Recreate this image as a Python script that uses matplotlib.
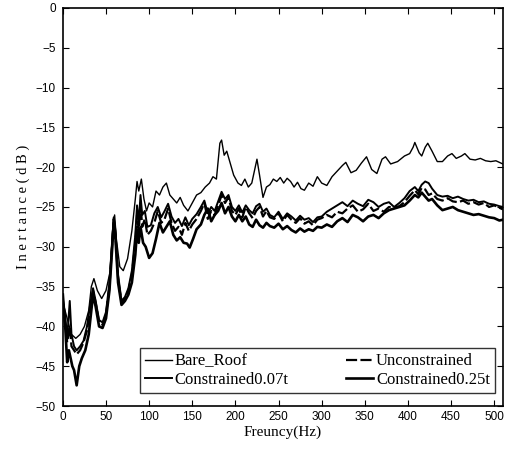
import matplotlib
matplotlib.use('Agg')
import matplotlib.pyplot as plt

# Bare roof
bare_f = [0, 5, 10, 15, 20, 25, 30, 33, 36, 40, 45, 50, 55, 58, 60, 62, 66, 70, 75, 80,
          84, 86, 88, 91, 94, 97, 100, 104, 108, 112, 116, 120, 124, 128, 132, 136, 140, 145,
          150, 155, 160, 165, 170, 174, 178, 182, 184, 187, 190, 194, 198, 203, 207, 211, 215,
          219, 222, 225, 228, 232, 236, 240, 244, 248, 252, 256, 260, 264, 268, 272, 276, 280,
          285, 290, 295, 300, 306, 312, 318, 324, 328, 334, 340, 346, 352, 358, 364, 370, 374,
          380, 388, 396, 402, 406, 408, 413, 416, 420, 423, 428, 434, 440, 446, 451, 456, 462,
          466, 472, 478, 484, 490, 496, 502, 510]
bare_db = [-37, -39, -41, -41.5, -41, -40, -38, -35, -34, -35.5, -36.5, -35.5, -33, -27.5, -26,
           -29, -32.5, -33, -31.5, -28, -24, -21.8, -23, -21.5, -24, -25.5, -24.5, -25, -23,
           -23.5, -22.5, -22, -23.5, -24, -24.5, -23.8, -24.8, -25.5, -24.5, -23.5, -23.2, -22.5,
           -22, -21.2, -21.5, -17, -16.6, -18.5, -18, -19.5, -21, -22, -22.3, -21.5, -22.5, -22,
           -20.5, -19, -21, -23.8, -22.5, -22.2, -21.5, -21.8, -21.3, -22, -21.4, -21.8, -22.5,
           -21.9, -22.7, -22.9, -22.0, -22.4, -21.2, -22.0, -22.3, -21.2, -20.5, -19.8, -19.4,
           -20.7, -20.4, -19.5, -18.7, -20.3, -20.8, -19.0, -18.7, -19.6, -19.3, -18.6, -18.3,
           -17.5, -16.9, -18.2, -18.6, -17.5, -17.0, -18, -19.3, -19.3, -18.6, -18.3, -18.9,
           -18.6, -18.3, -19.0, -19.1, -18.9, -19.2, -19.3, -19.2, -19.6]

# shared grid for the damped curves
damp_f = [0, 3, 5, 8, 10, 13, 16, 20, 24, 28, 32, 35, 38, 42, 46, 50, 54, 57, 59, 61, 64, 68,
          72, 76, 80, 84, 86, 88, 90, 92, 95, 98, 102, 106, 110, 114, 118, 122, 126, 130, 134,
          138, 142, 146, 150, 155, 160, 164, 168, 172, 176, 180, 184, 188, 192, 196, 200, 204,
          208, 212, 216, 220, 224, 228, 232, 236, 240, 245, 250, 255, 260, 265, 270, 275, 280,
          285, 290, 295, 300, 306, 312, 318, 324, 330, 336, 342, 348, 354, 360, 366, 372, 378,
          384, 390, 396, 402, 408, 412, 416, 420, 424, 428, 434, 440, 446, 452, 458, 464, 470,
          476, 482, 488, 494, 500, 506, 510]
uncon_db = [-37, -40, -42, -40, -42.5, -43, -43.5, -43, -42, -40.5, -37.5, -35.5, -37, -39.5,
            -39.8, -38.5, -35, -30, -26.5, -28.5, -34, -37, -36.5, -35.5, -33.5, -29.5, -26, -28,
            -24.5, -27.5, -26.5, -28.5, -28, -27, -25.5, -27, -26.5, -25.2, -27, -28, -27.5,
            -28.5, -27, -28, -27.2, -26.5, -25.5, -24.5, -26.5, -25.5, -26, -24.8, -23.5, -24.5,
            -23.8, -25.5, -26, -25.2, -26.3, -25, -25.8, -26.4, -25.5, -25, -26.2, -25.5, -26.3,
            -26.5, -25.8, -26.8, -26, -26.6, -27, -26.4, -27.1, -26.8, -27.3, -26.6, -26.4, -26.0,
            -26.3, -25.6, -25.8, -25.2, -24.8, -25.6, -25.3, -24.6, -25.5, -25.2, -25.6, -25.0,
            -25.1, -24.9, -24.4, -23.6, -22.9, -23.4, -22.6, -22.8, -23.5, -23.3, -24.0, -24.2,
            -23.9, -24.3, -24.4, -24.2, -24.6, -24.4, -24.7, -24.5, -25.0, -24.8, -25.1, -25.3]
c007_db = [-36.5, -39, -41.5, -36.8, -41, -42.5, -43, -42.5, -41.8, -40, -37, -35.2, -36.8,
           -39.2, -39.5, -38.2, -34.5, -29.5, -26.3, -28, -33.5, -36.8, -36.3, -35.2, -33, -28.5,
           -24.8, -27, -23.5, -26, -25.5, -27.5, -27.3, -25.8, -25, -26.3, -25.5, -24.6, -26.2,
           -27, -26.5, -27.4, -26.3, -27.3, -26.5, -25.9, -25, -24.2, -25.8, -25, -25.5, -24.3,
           -23.1, -24, -23.5, -25, -25.5, -24.8, -25.7, -24.8, -25.4, -25.8, -24.9, -24.6, -25.6,
           -25.2, -26.0, -26.3, -25.6, -26.5, -25.8, -26.2, -26.7, -26.1, -26.6, -26.4, -26.9,
           -26.3, -26.2, -25.6, -25.2, -24.8, -24.4, -24.9, -24.2, -24.6, -24.9, -24.1, -24.4,
           -25.0, -24.6, -24.4, -25.0, -24.5, -23.9, -23.0, -22.5, -23.0, -22.2, -21.8, -22.0,
           -22.7, -23.5, -23.7, -23.6, -23.9, -23.7, -24.0, -24.2, -24.1, -24.4, -24.3, -24.6,
           -24.7, -24.9, -25.0]

c025_f = [0, 3, 5, 7, 9, 11, 13, 16, 19, 22, 26, 30, 33, 35, 38, 42, 46, 50, 54, 57, 59, 61,
          64, 68, 72, 76, 80, 84, 86, 88, 90, 93, 96, 100, 104, 108, 112, 116, 120, 124, 128,
          132, 136, 140, 144, 147, 151, 155, 160, 164, 168, 172, 176, 180, 184, 188, 192, 196,
          200, 204, 208, 212, 216, 220, 224, 228, 232, 236, 240, 245, 250, 255, 260, 265, 270,
          275, 280, 285, 290, 295, 300, 306, 312, 318, 324, 330, 336, 342, 348, 354, 360, 366,
          372, 378, 384, 390, 396, 402, 408, 412, 416, 420, 424, 428, 434, 440, 446, 452, 458,
          464, 470, 476, 482, 488, 494, 500, 506, 510]
c025_db = [-36, -40.5, -44.5, -43, -44, -45, -45.5, -47.4, -45, -44, -43, -41, -38, -36, -37.5,
           -40, -40.2, -39, -35.5, -30.5, -27, -29, -34.5, -37.3, -36.8, -36, -34.5, -31, -28,
           -29.5, -27.5, -29.5, -30, -31.4, -30.8, -29, -27, -28.2, -27.5, -26.8, -28.5, -29.2,
           -28.8, -29.5, -29.6, -30.1, -29, -27.8, -27.2, -26, -25.2, -26.8, -26, -25.5, -24.5,
           -25.8, -25, -26.2, -26.8, -26, -26.8, -26.2, -27.2, -27.5, -26.6, -27.3, -27.6, -27.0,
           -27.4, -27.6, -27.1, -27.8, -27.4, -27.9, -28.2, -27.7, -28.1, -27.8, -28.0, -27.5,
           -27.6, -27.2, -27.5, -26.8, -26.4, -26.9, -26.0, -26.3, -26.8, -26.2, -26.0, -26.4,
           -25.8, -25.4, -25.2, -25.0, -24.8, -24.2, -23.5, -23.8, -23.2, -23.7, -24.2, -24.0,
           -24.8, -25.4, -25.2, -25.0, -25.4, -25.6, -25.8, -26.0, -25.9, -26.1, -26.3, -26.4,
           -26.7, -26.6]

x_ticks = [0, 50, 100, 150, 200, 250, 300, 350, 400, 450, 500]
y_ticks = [-50, -45, -40, -35, -30, -25, -20, -15, -10, -5, 0]

fig = plt.figure(figsize=(5.11, 4.63), dpi=100)
ax = fig.add_axes([0.123, 0.123, 0.861, 0.860])

l_bare, = ax.plot(bare_f, bare_db, color='black', lw=1.0, label='Bare_Roof')
l_unc, = ax.plot(damp_f, uncon_db, color='black', lw=1.6, ls=(0, (5, 1.5)), label='Unconstrained')
l_007, = ax.plot(damp_f, c007_db, color='black', lw=1.4, label='Constrained0.07t')
l_025, = ax.plot(c025_f, c025_db, color='black', lw=1.9, label='Constrained0.25t')

ax.set_xlim(0, 510)
ax.set_ylim(-50, 0)
ax.set_xticks(x_ticks)
ax.set_yticks(y_ticks)
ax.tick_params(direction='in', top=True, right=True, length=4, width=0.8,
               labelsize=8.5)
ax.tick_params(axis='y', pad=5)
for lab in ax.get_xticklabels() + ax.get_yticklabels():
    lab.set_family('Liberation Sans')
for sp in ax.spines.values():
    sp.set_linewidth(1.2)

ax.set_xlabel('Freuncy(Hz)', family='Liberation Serif', fontsize=11, labelpad=2)
ax.set_ylabel('I n e r t a n c e ( d B )', family='Liberation Serif', fontsize=10.5, labelpad=4)

# legend fills by column, so reorder to get the reference's rows
handles = [l_bare, l_007, l_unc, l_025]
leg = ax.legend(handles, [h.get_label() for h in handles], ncol=2, loc='lower left',
                bbox_to_anchor=(0.175, 0.033, 0.807, 0.133), mode='expand',
                prop={'family': 'Liberation Serif', 'size': 12},
                frameon=True, fancybox=False, handlelength=1.6, handletextpad=0.2,
                borderaxespad=0, labelspacing=0.15, columnspacing=1.0, borderpad=0.3)
leg.get_frame().set_edgecolor('black')
leg.get_frame().set_linewidth(1.0)

fig.savefig('out.png', dpi=100)
